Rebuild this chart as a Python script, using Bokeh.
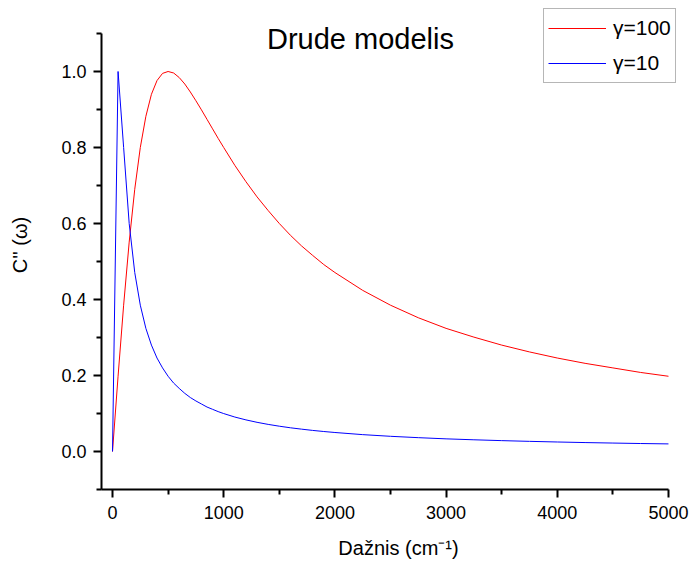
from bokeh.plotting import figure
from bokeh.models import FixedTicker, PrintfTickFormatter, Label, Legend, LegendItem, Range1d
from bokeh.embed import file_html
from bokeh.resources import INLINE

# frequency (cm^-1)
freq = [0, 50, 100, 150, 200, 250, 300, 350, 400, 450, 500, 550, 600, 650, 700, 750,
        800, 850, 900, 950, 1000, 1100, 1200, 1300, 1400, 1500, 1600, 1700, 1800, 1900,
        2000, 2250, 2500, 2750, 3000, 3250, 3500, 3750, 4000, 4250, 4500, 4750, 5000]

# gamma = 100 curve
c_g100 = [0.0, 0.198, 0.385, 0.551, 0.690, 0.800, 0.882, 0.940, 0.976, 0.995, 1.000, 0.996,
          0.984, 0.967, 0.946, 0.923, 0.899, 0.874, 0.849, 0.824, 0.800, 0.753, 0.710, 0.670,
          0.634, 0.600, 0.569, 0.541, 0.516, 0.492, 0.471, 0.424, 0.385, 0.352, 0.324, 0.301,
          0.280, 0.262, 0.246, 0.232, 0.220, 0.208, 0.198]

# gamma = 10 curve
c_g10 = [0.0, 1.000, 0.800, 0.600, 0.471, 0.385, 0.324, 0.280, 0.246, 0.220, 0.198, 0.180,
         0.166, 0.153, 0.142, 0.133, 0.125, 0.117, 0.111, 0.105, 0.0998, 0.0907, 0.0832, 0.0768,
         0.0713, 0.0666, 0.0624, 0.0588, 0.0555, 0.0526, 0.0500, 0.0444, 0.0400, 0.0364, 0.0333,
         0.0308, 0.0286, 0.0267, 0.0250, 0.0235, 0.0222, 0.0210, 0.0200]

x_major = [0, 1000, 2000, 3000, 4000, 5000]
x_minor = [500, 1500, 2500, 3500, 4500]
y_major = [0.0, 0.2, 0.4, 0.6, 0.8, 1.0]
y_minor = [-0.1, 0.1, 0.3, 0.5, 0.7, 0.9, 1.1]
x_bounds = (-100, 5000)
y_bounds = (-0.1, 1.1)

title_text = "Drude modelis"
x_label = "Dažnis (cm⁻¹)"
y_label = "C'' (ω)"
legend_labels = ["γ=100", "γ=10"]

FONT = "Liberation Sans"

# frame spans to the top and right edges of the canvas so that the title and the
# legend (which overlap the area beyond the axes) are not clipped; axis lines are
# limited with bounds
p = figure(width=695, height=568, output_backend="svg", toolbar_location=None,
           x_range=Range1d(-99, 5243), y_range=Range1d(-0.1, 1.1868),
           min_border_left=101, min_border_right=0, min_border_top=0, min_border_bottom=79)

p.outline_line_color = None
p.xgrid.visible = False
p.ygrid.visible = False
p.background_fill_color = "white"
p.border_fill_color = "white"

r1 = p.line(freq, c_g100, line_color="#ff0000", line_width=1)
r2 = p.line(freq, c_g10, line_color="#0000ff", line_width=1)

for ax, maj, mnr, fmt, bnd in [(p.xaxis[0], x_major, x_minor, "%d", x_bounds),
                               (p.yaxis[0], y_major, y_minor, "%.1f", y_bounds)]:
    ax.ticker = FixedTicker(ticks=maj, minor_ticks=mnr)
    ax.formatter = PrintfTickFormatter(format=fmt)
    ax.bounds = bnd
    ax.axis_line_width = 2
    ax.axis_line_color = "black"
    ax.major_tick_line_width = 2
    ax.minor_tick_line_width = 2
    ax.major_tick_in = 0
    ax.major_tick_out = 8
    ax.minor_tick_in = 0
    ax.minor_tick_out = 5
    ax.major_label_text_font = FONT
    ax.major_label_text_font_size = "18px"
    ax.major_label_text_color = "black"
    ax.axis_label_text_font = FONT
    ax.axis_label_text_font_size = "20px"
    ax.axis_label_text_font_style = "normal"
    ax.axis_label_text_color = "black"

p.xaxis.axis_label = x_label
p.yaxis.axis_label = y_label
p.xaxis.major_label_standoff = 8
p.yaxis.major_label_standoff = 7
p.xaxis.axis_label_standoff = 15
p.yaxis.axis_label_standoff = 27

title = Label(x=2230, y=1.0866, text=title_text, text_align="center", text_baseline="alphabetic",
              text_font=FONT, text_font_size="29px", text_color="black")
p.add_layout(title)

legend = Legend(items=[LegendItem(label=legend_labels[0], renderers=[r1]),
                       LegendItem(label=legend_labels[1], renderers=[r2])],
                location=(442, 406), orientation="vertical",
                label_text_font=FONT, label_text_font_size="21px", label_text_color="black",
                glyph_width=58, glyph_height=30, label_height=30, label_standoff=7,
                padding=4, spacing=5, margin=0,
                border_line_color="#6e6e6e", border_line_width=1,
                background_fill_color="white", background_fill_alpha=1.0)
p.add_layout(legend)

open("out.html", "w").write(file_html(p, INLINE))
